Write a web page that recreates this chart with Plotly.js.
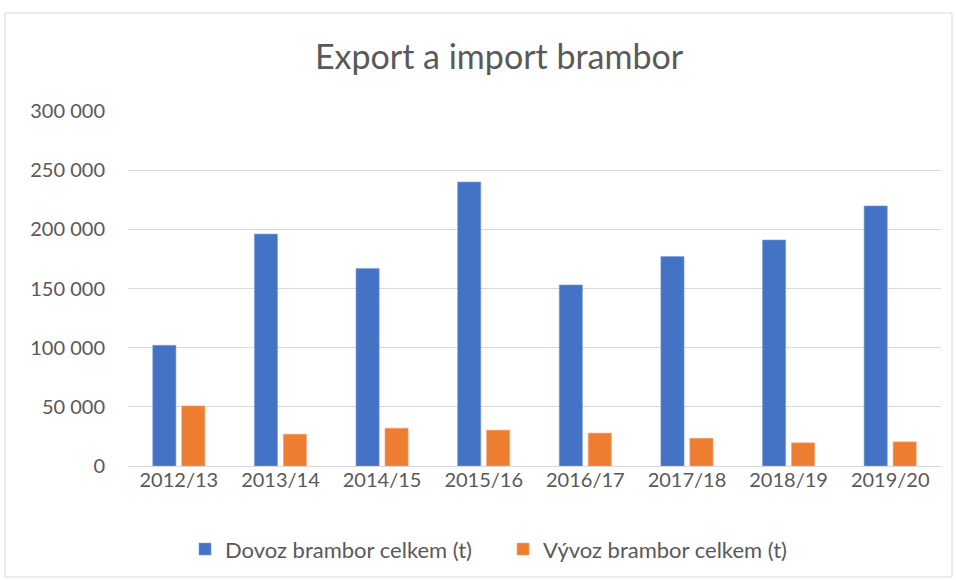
<!DOCTYPE html>
<html>
<head>
<meta charset="utf-8">
<script src="https://cdn.plot.ly/plotly-3.0.1.min.js"></script>
<style>html,body{margin:0;padding:0;background:#fff;}#chart{width:956px;height:580px;}</style>
</head>
<body>
<div id="chart"></div>
<script>
const categories = ["2012/13","2013/14","2014/15","2015/16","2016/17","2017/18","2018/19","2019/20"];
const dovoz = [102000, 196000, 167000, 240000, 153000, 177000, 191000, 219800];
const vyvoz = [50800, 26900, 32000, 30300, 27800, 23500, 19600, 20400];
const seriesNames = ["Dovoz brambor celkem (t)", "Vývoz brambor celkem (t)"];
const tickVals = [0, 50000, 100000, 150000, 200000, 250000, 300000];

const font = "Lato, 'Open Sans', sans-serif";
const traces = [
  {type:"bar", name:seriesNames[0], x:categories, y:dovoz, legend:"legend", marker:{color:"#4472C4", line:{color:"#7f9fd8", width:0.6}}},
  {type:"bar", name:seriesNames[1], x:categories, y:vyvoz, legend:"legend2", marker:{color:"#ED7D31", line:{color:"#f3a879", width:0.6}}}
];
const legendBase = {orientation:"h", xref:"container", xanchor:"left", yref:"container", y:0.053, yanchor:"middle", font:{size:22, color:"#595959"}, itemwidth:30, bgcolor:"rgba(0,0,0,0)"};
const layout = {
  width:956, height:580,
  margin:{l:128, r:15, t:111, b:114},
  paper_bgcolor:"#fff", plot_bgcolor:"#fff",
  separators:", ",
  font:{family:font, color:"#595959", size:20},
  title:{text:"Export a import brambor", font:{family:font, size:34, color:"#595959"}, xref:"container", x:0.522, xanchor:"center", yref:"container", y:0.902, yanchor:"middle"},
  barmode:"group", bargap:0.43, bargroupgap:0.2,
  xaxis:{type:"category", showgrid:false, showline:false, ticks:"", tickfont:{size:20, color:"#595959"}, ticklen:0},
  yaxis:{range:[0,300000], tickvals:tickVals, tickformat:",d", showgrid:true, gridcolor:"#d9d9d9", gridwidth:1, zeroline:true, zerolinecolor:"#d9d9d9", zerolinewidth:1, showline:false, ticks:"", ticklabelstandoff:22, tickfont:{size:20, color:"#595959"}},
  legend:Object.assign({}, legendBase, {x:185/956}),
  legend2:Object.assign({}, legendBase, {x:503/956}),
  shapes:[{type:"rect", xref:"paper", yref:"paper", x0:(5-128)/813, x1:(952-128)/813, y0:(465-576)/355, y1:(465-12)/355, line:{color:"#d9d9d9", width:1}, fillcolor:"rgba(0,0,0,0)", layer:"below"}],
  showlegend:true
};
Plotly.newPlot("chart", traces, layout, {displayModeBar:false, staticPlot:true});
</script>
</body>
</html>
